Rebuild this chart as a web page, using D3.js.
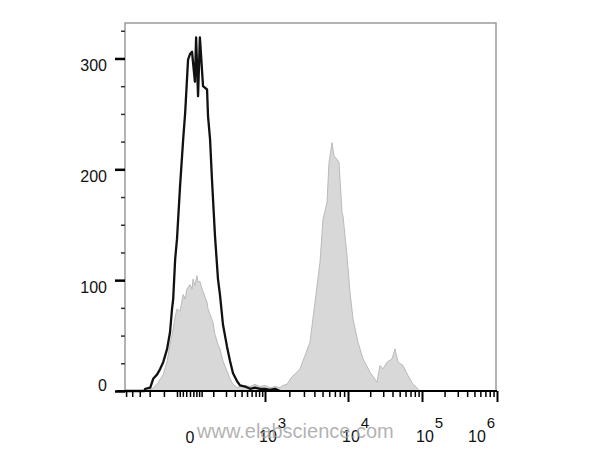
<!DOCTYPE html>
<html>
<head>
<meta charset="utf-8">
<script src="https://cdn.jsdelivr.net/npm/d3@7"></script>
<style>
  html, body { margin: 0; padding: 0; background: #fff; }
  svg { display: block; font-family: Arial, "Liberation Sans", sans-serif; }
</style>
</head>
<body>
<svg id="chart" width="600" height="462"></svg>
<script>
// ---- data (fluorescence value, event count) ----
const blackX = [-520, -250, -241, -195, -171, -142, -122, -104, -83, -69, -60, -55, -47, -40, -29, -19, -13, -5, 0, 6, 9, 15, 19, 26, 33, 46, 65, 70, 81, 92, 111, 132, 147, 172, 210, 242, 277, 330, 375, 461, 563, 684, 828, 1000, 1156, 1334, 1537];
const blackCount = [0, 0, 2, 3, 11, 15, 20, 26, 38, 53, 74, 83, 119, 137, 185, 227, 251, 299, 304, 306, 296, 279, 319, 266, 319, 275, 272, 248, 227, 191, 140, 101, 87, 60, 40, 27, 16, 9, 5, 4, 2, 3, 2, 2, 1, 2, 0];

const grayX = [-241, -179, -142, -104, -83, -69, -55, -47, -40, -29, -19, -13, -8, 0, 6, 9, 15, 22, 26, 33, 42, 55, 65, 70, 81, 98, 111, 132, 147, 172, 210, 242, 277, 330, 375, 461, 563, 684, 828, 1000, 1156, 1334, 1537, 1673, 1873, 2154, 2408, 2691, 3090, 3546, 4069, 4665, 5064, 5649, 5966, 6474, 6837, 7419, 7833, 8498, 8732, 9733, 10646, 11692, 13668, 15975, 19869, 24707, 27126, 29779, 33723, 39392, 43237, 47459, 55435, 64759, 75623, 85620, 93978];
const grayCount = [0, 2, 6, 15, 27, 42, 56, 67, 74, 72, 87, 83, 92, 96, 92, 101, 95, 104, 98, 99, 92, 85, 80, 74, 69, 62, 51, 42, 38, 27, 18, 11, 6, 3, 4, 5, 4, 6, 4, 5, 3, 4, 3, 5, 6, 13, 16, 20, 32, 44, 80, 116, 155, 170, 206, 224, 212, 209, 206, 161, 158, 122, 89, 65, 44, 29, 17, 8, 23, 20, 26, 29, 38, 26, 23, 14, 6, 3, 0];

const yTicks = [0, 100, 200, 300];
const yMinor = [25, 50, 75, 125, 150, 175, 225, 250, 275, 325];
const xMajor = [1e3, 1e4, 1e5, 1e6];
const xMajorExp = ["3", "4", "5", "6"];
const xMinor = [-500, -400, -300, -200, -100, -40, -30, -20, -10, 0, 10, 20, 30, 40,
  100, 200, 300, 400, 500, 600, 700, 800, 900,
  2000, 3000, 4000, 5000, 6000, 7000, 8000, 9000,
  20000, 30000, 40000, 50000, 60000, 70000, 80000, 90000,
  200000, 300000, 400000, 500000, 600000, 700000, 800000, 900000];
const watermark = "www.elabscience.com";

// ---- layout ----
const L = 125, R = 496, T = 23, B = 391;
const svg = d3.select("#chart");

// biexponential-like display: symlog transform, then piecewise linear placement of decades
const sym = v => Math.sign(v) * Math.log1p(Math.abs(v) / 81);
const xLin = d3.scaleLinear()
  .domain([-520, 0, 1e3, 1e4, 1e5, 1e6].map(sym))
  .range([L, 190, 265, 348, 422, 497]);
const x = v => xLin(sym(v));
const y = d3.scaleLinear().domain([0, 332]).range([B, T]);

// frame
svg.append("path")
  .attr("d", `M${L},${B}V${T}H${R}V${B}`)
  .attr("fill", "none").attr("stroke", "#9a9a9a").attr("stroke-width", 1.5);

// gray histogram
const grayData = grayX.map((v, i) => [v, grayCount[i]]);
svg.append("path")
  .datum(grayData)
  .attr("d", d3.area().x(d => x(d[0])).y0(y(0)).y1(d => y(d[1])))
  .attr("fill", "#d8d8d8")
  .attr("stroke", "#bababa").attr("stroke-width", 1);

// black histogram
const blackData = blackX.map((v, i) => [v, blackCount[i]]);
svg.append("path")
  .datum(blackData)
  .attr("d", d3.line().x(d => x(d[0])).y(d => y(d[1])))
  .attr("fill", "none")
  .attr("stroke", "#111").attr("stroke-width", 2.3).attr("stroke-linejoin", "round");

// y axis ticks
const yAxisMinor = svg.append("g").attr("transform", `translate(${L},0)`)
  .call(d3.axisLeft(y).tickValues(yMinor).tickSize(4).tickFormat(""));
yAxisMinor.select(".domain").remove();
yAxisMinor.selectAll("line").attr("stroke", "#333").attr("stroke-width", 1.5);

const yAxis = svg.append("g").attr("transform", `translate(${L},0)`)
  .call(d3.axisLeft(y).tickValues(yTicks).tickSize(10).tickPadding(8));
yAxis.select(".domain").remove();
yAxis.selectAll("line").attr("stroke", "#000").attr("stroke-width", 2.5);
yAxis.selectAll("text")
  .attr("font-size", 16).attr("fill", "#111")
  .attr("font-family", "Arial, 'Liberation Sans', sans-serif")
  .attr("dy", d => d === 0 ? "-0.05em" : "0.75em");

// x axis
svg.append("line")
  .attr("x1", 117).attr("x2", 497).attr("y1", B).attr("y2", B)
  .attr("stroke", "#000").attr("stroke-width", 2);

const xAxisMinor = svg.append("g").attr("transform", `translate(0,${B})`)
  .call(d3.axisBottom(xLin).tickValues(xMinor.map(sym)).tickSize(6).tickFormat(""));
xAxisMinor.select(".domain").remove();
xAxisMinor.selectAll("line").attr("stroke", "#000").attr("stroke-width", 1.5);

const xAxisMajor = svg.append("g").attr("transform", `translate(0,${B})`)
  .call(d3.axisBottom(xLin).tickValues(xMajor.map(sym)).tickSize(11).tickFormat(""));
xAxisMajor.select(".domain").remove();
xAxisMajor.selectAll("line").attr("stroke", "#000").attr("stroke-width", 2);

// x labels
svg.append("text")
  .attr("x", x(0)).attr("y", 443)
  .attr("text-anchor", "middle").attr("font-size", 16).attr("fill", "#111")
  .text("0");

xMajor.forEach((v, i) => {
  const off = i === xMajor.length - 1 ? -29 : -6;
  const t = svg.append("text")
    .attr("x", x(v) + off).attr("y", 442)
    .attr("font-size", 16).attr("fill", "#111");
  t.append("tspan").text("10");
  t.append("tspan").attr("dy", -14).attr("dx", 1).attr("font-size", 15).text(xMajorExp[i]);
});

// watermark
svg.append("text")
  .attr("x", 197).attr("y", 438)
  .attr("font-size", 20).attr("fill", "#a4a4a4").attr("fill-opacity", 0.85)
  .text(watermark);
</script>
</body>
</html>
